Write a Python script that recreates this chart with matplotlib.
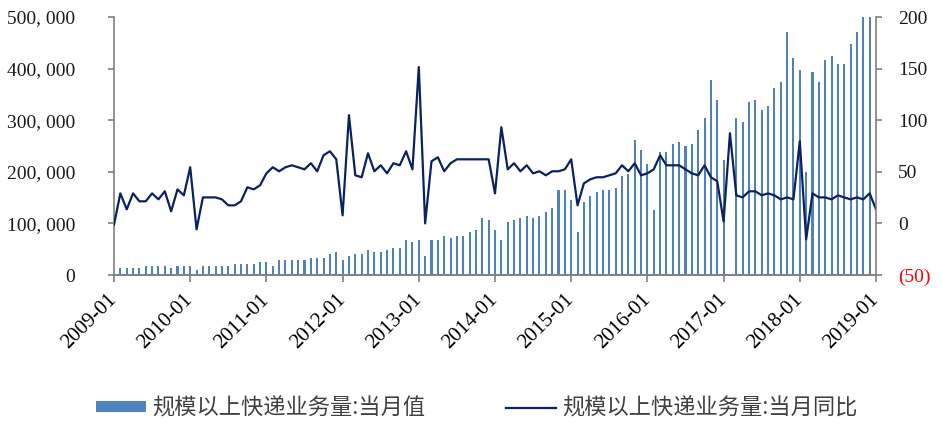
import numpy as np
import matplotlib
matplotlib.use("Agg")
from matplotlib import pyplot as plt
from matplotlib.font_manager import FontProperties

# 规模以上快递业务量, 2009-01 .. 2019-01 (万件 / %)
volume = [
    np.nan, 12900, 12900, 12900, 12900, 16800, 16800, 16800, 16800, 12900, 16800, 16800,
    16800, 9000, 16800, 16800, 16800, 16800, 16800, 20700, 20700, 20700, 20700, 24500,
    24500, 16800, 28400, 28400, 28400, 28400, 28400, 32300, 32300, 32300, 40000, 43900,
    28400, 36200, 40000, 40000, 47800, 43900, 43900, 47800, 51700, 51700, 67200, 63300,
    67200, 36200, 67200, 67200, 74900, 71100, 74900, 74900, 82700, 86600, 109800, 105900,
    86600, 67200, 102100, 105900, 109800, 113700, 109800, 113700, 121400, 129200, 164000, 164000,
    144700, 82700, 140800, 152500, 160200, 164000, 164000, 167900, 191200, 195100, 261000, 241600,
    214500, 125300, 237700, 237700, 253200, 257100, 249400, 253200, 280400, 303600, 377300, 338500,
    222200, np.nan, 303600, 295900, 334600, 338500, 319100, 326900, 361800, 373400, 470300, 419900,
    396700, 199000, 392800, 373400, 416000, 423800, 408300, 408300, 447000, 470300, 560000, 510000,
    np.nan,
]
growth = [
    -1.3, 29.1, 13.6, 29.1, 21.4, 21.4, 29.1, 23.3, 31.1, 11.7, 33.0, 27.2,
    54.4, -5.8, 25.2, 25.2, 25.2, 23.3, 17.5, 17.5, 21.4, 35.0, 33.0, 36.9,
    48.5, 54.4, 50.5, 54.4, 56.3, 54.4, 52.4, 58.3, 50.5, 66.0, 69.9, 62.1,
    7.8, 104.9, 46.6, 44.7, 68.0, 50.5, 56.3, 48.5, 58.3, 56.3, 69.9, 52.4,
    151.5, 0.0, 60.2, 64.1, 50.5, 58.3, 62.1, 62.1, 62.1, 62.1, 62.1, 62.1,
    29.1, 93.2, 52.4, 58.3, 50.5, 56.3, 48.5, 50.5, 46.6, 50.5, 50.5, 52.4,
    62.1, 17.5, 38.8, 42.7, 44.7, 44.7, 46.6, 48.5, 56.3, 50.5, 58.3, 46.6,
    48.5, 52.4, 66.0, 56.3, 56.3, 56.3, 52.4, 48.5, 46.6, 56.3, 44.7, 40.8,
    1.9, 87.4, 27.2, 25.2, 31.1, 31.1, 27.2, 29.1, 27.2, 23.3, 25.2, 23.3,
    79.6, -15.5, 29.1, 25.2, 25.2, 23.3, 27.2, 25.2, 23.3, 25.2, 23.3, 29.1,
    13.6,
]
month_ticks = ['2009-01', '2010-01', '2011-01', '2012-01', '2013-01', '2014-01',
               '2015-01', '2016-01', '2017-01', '2018-01', '2019-01']
left_ticks = [0, 100000, 200000, 300000, 400000, 500000]
right_ticks = [-50, 0, 50, 100, 150, 200]
right_labels = ['(50)', '0', '50', '100', '150', '200']
label_bar = '规模以上快递业务量:当月值'
label_line = '规模以上快递业务量:当月同比'

grey = '#808080'
serif = 'Liberation Serif'
cjk = FontProperties(family=['Noto Sans CJK SC', 'DejaVu Sans'], size=16)

x = np.arange(len(growth))

fig = plt.figure(figsize=(9.42, 4.25), dpi=100)
ax = fig.add_axes([114 / 942, 1 - 275 / 425, 762 / 942, 258 / 425])
ax2 = ax.twinx()

bars = ax.bar(x, volume, width=0.33, color='#4f81bd', label=label_bar)
line, = ax2.plot(x, growth, color='#0b2161', linewidth=1.6, label=label_line)

ax.set_xlim(0, len(growth) - 1)
ax.set_ylim(0, 500000)
ax2.set_ylim(-50, 200)

ax.set_xticks(x[::12], labels=month_ticks)
ax.set_yticks(left_ticks, labels=['{:,}'.format(v).replace(',', ', ') for v in left_ticks])
ax2.set_yticks(right_ticks, labels=right_labels)

for a in (ax, ax2):
    for s in a.spines.values():
        s.set_color(grey)
        s.set_linewidth(1.2)
    a.spines['top'].set_visible(False)
ax.spines['right'].set_visible(False)
ax2.spines['left'].set_visible(False)

ax.tick_params(axis='x', length=5, width=1.2, color=grey, pad=11)
ax.tick_params(axis='y', length=4, width=1.2, color=grey, pad=24)
ax2.tick_params(axis='y', length=4, width=1.2, color=grey, pad=12)

for t in ax.get_xticklabels():
    t.set_fontfamily(serif)
    t.set_fontsize(15)
    t.set_rotation(45)
    t.set_ha('right')
    t.set_va('center')
    t.set_rotation_mode('anchor')
for t in ax.get_yticklabels() + ax2.get_yticklabels():
    t.set_fontfamily(serif)
    t.set_fontsize(14)
    t.set_color('#1a1a1a')
ax2.get_yticklabels()[0].set_color('red')

fig.legend([bars, line], [label_bar, label_line], ncol=2, loc='center',
           bbox_to_anchor=(0.506, 0.04), frameon=False, prop=cjk,
           handlelength=2.25, handleheight=0.4, handletextpad=0.3,
           columnspacing=3.6, labelcolor='#404040')

fig.savefig('out.png', dpi=100)
